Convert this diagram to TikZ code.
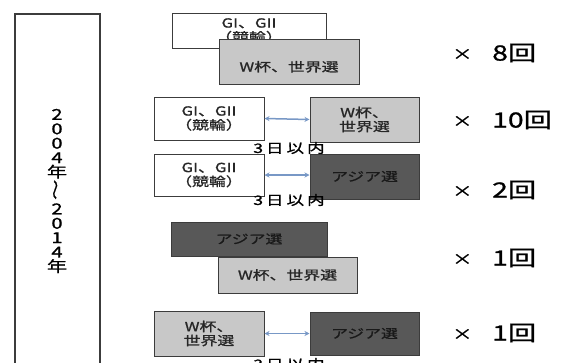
\documentclass[tikz,border=0pt]{standalone}
\usepackage{fontspec}
\setmainfont{Noto Sans CJK JP}[FakeStretch=1.35, FakeBold=1]
\usetikzlibrary{arrows.meta}
\definecolor{lightbox}{HTML}{C8C8C8}
\definecolor{darkbox}{HTML}{585858}
\definecolor{edge}{HTML}{3C3C3C}
\definecolor{arrowc}{HTML}{7898C6}
\newcommand{\timesmark}{\makebox[40pt][l]{\fontsize{15}{16}\selectfont\raisebox{1pt}{×}}}
\begin{document}
\begin{tikzpicture}[x=1pt,y=1pt,
  box/.style={draw=edge, line width=1pt, inner sep=0pt, align=center,
    font=\fontsize{12.5}{14}\selectfont, text=black!85},
  wbox/.style={box, fill=white},
  lbox/.style={box, fill=lightbox},
  dbox/.style={box, fill=darkbox, text=black!90},
  link/.style={draw=arrowc, line width=1.5pt,
    {Stealth[length=5pt,width=5pt]}-{Stealth[length=5pt,width=5pt]}},
  gaplabel/.style={font=\fontsize{13}{14}\selectfont, inner sep=0pt},
  count/.style={anchor=west, inner sep=0pt, font=\fontsize{21}{22}\selectfont}]
\clip (0,0) rectangle (561,-362);
\fill[white] (0,0) rectangle (561,-362);

% year box
\node[draw=edge, line width=1.6pt, minimum width=85pt, minimum height=380pt,
  anchor=north west, inner sep=0pt] (yearbox) at (14,-13) {};
\node[font=\fontsize{15}{14.4}\selectfont, align=center, inner sep=0pt] (year) at (57,-191)
  {2\\0\\0\\4\\年\\\rotatebox{90}{～}\\2\\0\\1\\4\\年};

% row 1
\node[wbox, minimum width=154pt, minimum height=35pt] (w1) at (249,-30.5) {GI、GII\\（競輪）};
\node[lbox, minimum width=140pt, minimum height=45pt] (g1) at (289,-61.5) {\raisebox{-10pt}[0pt][0pt]{W杯、世界選}};
\node[count] (c1) at (452,-53) {\timesmark 8回};

% row 2
\node[wbox, minimum width=110pt, minimum height=43pt] (w2) at (209,-118.5) {GI、GII\\（競輪）};
\node[lbox, minimum width=109pt, minimum height=45pt] (g2) at (364.5,-119.5) {W杯、\\世界選};
\draw[link] (w2.east) -- (g2.west);
\node[gaplabel] (d2) at (289,-148) {3\hspace{3pt}日\hspace{3pt}以\hspace{3pt}内};
\node[count] (c2) at (452,-120) {\timesmark 10回};

% row 3
\node[wbox, minimum width=110pt, minimum height=42pt] (w3) at (209,-175) {GI、GII\\（競輪）};
\node[dbox, minimum width=109pt, minimum height=45pt] (a3) at (364.5,-176.5) {アジア選};
\draw[link] (w3.east) -- (w3.east -| a3.west);
\node[gaplabel] (d3) at (289,-200) {3\hspace{3pt}日\hspace{3pt}以\hspace{3pt}内};
\node[count] (c3) at (452,-190) {\timesmark 2回};

% row 4
\node[dbox, minimum width=156pt, minimum height=34pt] (a4) at (249,-239) {アジア選};
\node[lbox, minimum width=139pt, minimum height=36pt] (g4) at (287.5,-275) {W杯、世界選};
\node[count] (c4) at (452,-258) {\timesmark 1回};

% row 5
\node[lbox, minimum width=110pt, minimum height=45pt] (g5) at (209,-333.5) {W杯、\\世界選};
\node[dbox, minimum width=109pt, minimum height=43pt] (a5) at (364.5,-333.5) {アジア選};
\draw[link] (g5.east) -- (a5.west);
\node[gaplabel] (d5) at (289,-364) {3\hspace{3pt}日\hspace{3pt}以\hspace{3pt}内};
\node[count] (c5) at (452,-333) {\timesmark 1回};
\end{tikzpicture}
\end{document}
